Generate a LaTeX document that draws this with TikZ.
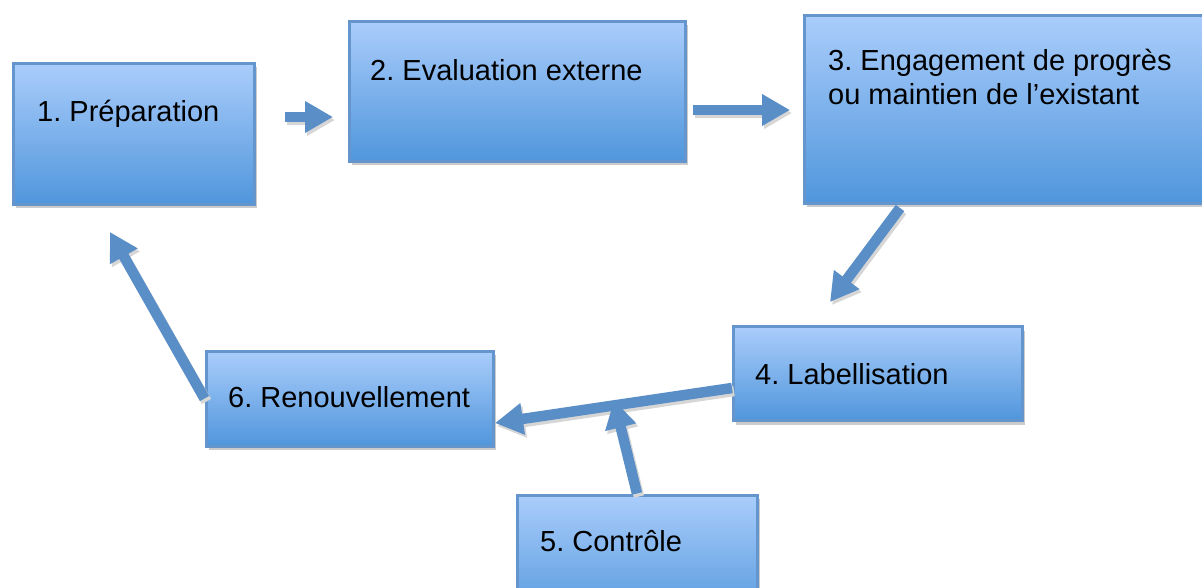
\documentclass[tikz,border=0pt]{standalone}
\usepackage{fontspec}
\setmainfont{Liberation Sans}
\usetikzlibrary{arrows.meta,shadows}
\definecolor{boxtop}{RGB}{170,205,251}
\definecolor{boxbot}{RGB}{80,150,220}
\definecolor{boxline}{RGB}{100,150,205}
\definecolor{arrcol}{RGB}{90,142,199}
\frenchspacing
\begin{document}
\begin{tikzpicture}[x=1pt,y=-1pt,
  stagebox/.style={rectangle, draw=boxline, line width=3pt, top color=boxtop, bottom color=boxbot,
    inner sep=0pt, drop shadow={shadow xshift=3pt, shadow yshift=-4pt, fill=black!45, opacity=.45}},
  stagetext/.style={anchor=base west, inner sep=0pt, text=black, font=\fontsize{29}{34}\selectfont\frenchspacing},
  flow/.style={draw=arrcol, line width=10.5pt, -{Triangle[length=28pt,width=30pt]}, arrcol,
    preaction={draw=black!16, line width=10.5pt, black!16, transform canvas={xshift=2pt,yshift=-3pt}}}]
\useasboundingbox (0,0) rectangle (1202,587);
\clip (0,0) rectangle (1202,587);
\fill[white] (0,0) rectangle (1202,587);
% boxes
\node[stagebox, minimum width=241pt, minimum height=141pt] (b1) at (133.5,133.5) {};
\node[stagebox, minimum width=336pt, minimum height=140pt] (b2) at (517,91) {};
\node[stagebox, minimum width=420pt, minimum height=188pt] (b3) at (1014,109) {};
\node[stagebox, minimum width=289pt, minimum height=94pt] (b4) at (877.5,373.5) {};
\node[stagebox, minimum width=240pt, minimum height=130pt] (b5) at (637,560) {};
\node[stagebox, minimum width=287pt, minimum height=95pt] (b6) at (349.5,398.5) {};
% texts
\node[stagetext] (t1) at (37,121) {1. Préparation};
\node[stagetext] (t2) at (370,80) {2. Evaluation externe};
\node[stagetext] (t3a) at (828,70) {3. Engagement de progrès};
\node[stagetext] (t3b) at (828,104) {ou maintien de l’existant};
\node[stagetext] (t4) at (755,384) {4. Labellisation};
\node[stagetext] (t5) at (540,551) {5. Contrôle};
\node[stagetext] (t6) at (228,407) {6. Renouvellement};
% connector ends
\coordinate (a1s) at (285,117);
\coordinate (a1e) at (333,117);
\coordinate (a2s) at (693,110);
\coordinate (a2e) at (790,110);
\coordinate (a3s) at (900,208);
\coordinate (a3e) at (830,302);
\coordinate (a4s) at (732,388);
\coordinate (a4e) at (495,423);
\coordinate (a5e) at (614,400);
\coordinate (a6e) at (110,232);
% arrows
\draw[flow] (a1s) -- (a1e);
\draw[flow] (a2s) -- (a2e);
\draw[flow] (a3s) -- (a3e);
\draw[flow] (a4s) -- (a4e);
\draw[flow] (b5.north) -- (a5e);
\draw[flow] (b6.west) -- (a6e);
\end{tikzpicture}
\end{document}
